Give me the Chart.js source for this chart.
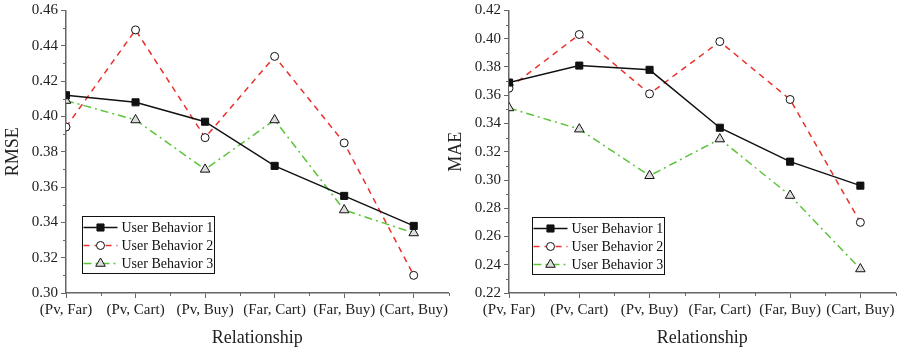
<!DOCTYPE html>
<html>
<head>
<meta charset="utf-8">
<script src="https://cdn.jsdelivr.net/npm/chart.js@4/dist/chart.umd.min.js"></script>
<style>
  body { margin: 0; background: #fff; }
  .wrap { position: relative; width: 902px; height: 350px; }
  #rmse { position: absolute; left: 0; top: 0; }
  #mae { position: absolute; left: 443px; top: 0; }
</style>
</head>
<body>
<div class="wrap">
  <canvas id="rmse" width="455" height="350"></canvas>
  <canvas id="mae" width="459" height="350"></canvas>
</div>
<script>
const categories = ['(Pv, Far)', '(Pv, Cart)', '(Pv, Buy)', '(Far, Cart)', '(Far, Buy)', '(Cart, Buy)'];
const seriesNames = ['User Behavior 1', 'User Behavior 2', 'User Behavior 3'];

const rmse1 = [0.412, 0.408, 0.397, 0.372, 0.355, 0.338];
const rmse2 = [0.394, 0.449, 0.388, 0.434, 0.385, 0.310];
const rmse3 = [0.409, 0.398, 0.370, 0.398, 0.347, 0.334];

const mae1 = [0.369, 0.381, 0.378, 0.337, 0.313, 0.296];
const mae2 = [0.365, 0.403, 0.361, 0.398, 0.357, 0.270];
const mae3 = [0.351, 0.336, 0.303, 0.329, 0.289, 0.237];

const rmseTicks = [0.30, 0.46];
const maeTicks = [0.22, 0.42];

const FONT = "'Liberation Serif', 'Times New Roman', serif";
const AXIS = '#666';

const looks = [
  { color: '#111', dash: [], pointStyle: 'rect', radius: 5, fill: '#111' },
  { color: '#e8322b', dash: [6, 5], pointStyle: 'circle', radius: 4, fill: '#fff' },
  { color: '#5cc43a', dash: [8, 4, 2, 4], pointStyle: 'triangle', radius: 5.5, fill: '#ddd' }
];

function makeSets(values) {
  return values.map((vals, i) => ({
    label: seriesNames[i],
    data: vals.map((v, k) => ({ x: k, y: v })),
    borderColor: looks[i].color,
    borderDash: looks[i].dash,
    borderWidth: 1.5,
    pointStyle: looks[i].pointStyle,
    pointRadius: looks[i].radius,
    pointBackgroundColor: looks[i].fill,
    pointBorderColor: '#111',
    pointBorderWidth: 1,
    tension: 0
  }));
}

// small ticks between the labelled ones
const minorTicks = {
  id: 'minorTicks',
  afterDraw(chart) {
    const ctx = chart.ctx;
    const xs = chart.scales.x, ys = chart.scales.y;
    ctx.save();
    ctx.strokeStyle = AXIS;
    ctx.lineWidth = 1;
    ctx.beginPath();
    for (let v = 0.5; v <= 5.5; v += 1) {
      const px = Math.round(xs.getPixelForValue(v)) + 0.5;
      ctx.moveTo(px, xs.top);
      ctx.lineTo(px, xs.top + 3);
    }
    const step = 0.02;
    for (let v = ys.min + step / 2; v < ys.max; v += step) {
      const py = Math.round(ys.getPixelForValue(v)) + 0.5;
      ctx.moveTo(ys.right, py);
      ctx.lineTo(ys.right - 3, py);
    }
    ctx.stroke();
    ctx.restore();
  }
};

// boxed legend inside the plot
const boxLegend = {
  id: 'boxLegend',
  afterDatasetsDraw(chart, args, opts) {
    const ctx = chart.ctx;
    const ca = chart.chartArea;
    const left = Math.round(ca.left + opts.dx) + 0.5;
    const top = Math.round(ca.top + opts.dy) + 0.5;
    const w = 132, h = 57;
    ctx.save();
    ctx.fillStyle = '#fff';
    ctx.fillRect(left, top, w, h);
    ctx.strokeStyle = '#111';
    ctx.lineWidth = 1;
    ctx.setLineDash([]);
    ctx.strokeRect(left, top, w, h);
    chart.data.datasets.forEach((ds, i) => {
      const y = top + 11 + i * 18;
      ctx.strokeStyle = ds.borderColor;
      ctx.lineWidth = 1.5;
      ctx.setLineDash(ds.borderDash);
      ctx.beginPath();
      ctx.moveTo(left + 1, y);
      ctx.lineTo(left + 35, y);
      ctx.stroke();
      ctx.setLineDash([]);
      ctx.fillStyle = ds.pointBackgroundColor;
      ctx.strokeStyle = ds.pointBorderColor;
      ctx.lineWidth = 1;
      Chart.helpers.drawPoint(ctx, { pointStyle: ds.pointStyle, radius: ds.pointRadius, rotation: 0, borderWidth: 1 }, left + 18, y);
      ctx.fillStyle = '#111';
      ctx.font = '14px ' + FONT;
      ctx.textBaseline = 'middle';
      ctx.fillText(ds.label, left + 39, y + 1);
    });
    ctx.restore();
  }
};

function makeChart(id, values, yRange, yTitle, legendPos, rightPad) {
  new Chart(document.getElementById(id), {
    type: 'line',
    data: { datasets: makeSets(values) },
    plugins: [minorTicks, boxLegend],
    options: {
      responsive: false,
      animation: false,
      layout: { padding: { top: 8, right: rightPad, left: 0, bottom: 0 } },
      plugins: {
        legend: { display: false },
        tooltip: { enabled: false },
        boxLegend: legendPos
      },
      scales: {
        x: {
          type: 'linear',
          min: 0,
          max: 5.5,
          afterFit: s => { s.height = 57; },
          afterBuildTicks: s => { s.ticks = categories.map((c, i) => ({ value: i })); },
          ticks: {
            stepSize: 1,
            autoSkip: false,
            maxRotation: 0,
            padding: 3,
            color: '#222',
            font: { family: FONT, size: 15 },
            callback: v => categories[v]
          },
          grid: { drawOnChartArea: false, drawTicks: true, tickLength: 5, color: AXIS, lineWidth: 1 },
          border: { color: AXIS, width: 1.5 },
          title: {
            display: true,
            text: 'Relationship',
            color: '#222',
            font: { family: FONT, size: 18 },
            padding: { top: 0, bottom: 1 }
          }
        },
        y: {
          min: yRange[0],
          max: yRange[1],
          afterFit: s => { s.width = 66; },
          ticks: {
            stepSize: 0.02,
            padding: 3,
            color: '#222',
            font: { family: FONT, size: 15, lineHeight: 1 },
            callback: v => v.toFixed(2)
          },
          grid: { drawOnChartArea: false, drawTicks: true, tickLength: 5, color: AXIS, lineWidth: 1 },
          border: { color: AXIS, width: 1.5 },
          title: {
            display: true,
            text: yTitle,
            color: '#222',
            font: { family: FONT, size: 18 },
            padding: { top: 2, bottom: 0 }
          }
        }
      }
    }
  });
}

makeChart('rmse', [rmse1, rmse2, rmse3], rmseTicks, 'RMSE', { dx: 16, dy: 205 }, 2);
makeChart('mae', [mae1, mae2, mae3], maeTicks, 'MAE', { dx: 23, dy: 206 }, 6);
</script>
</body>
</html>
